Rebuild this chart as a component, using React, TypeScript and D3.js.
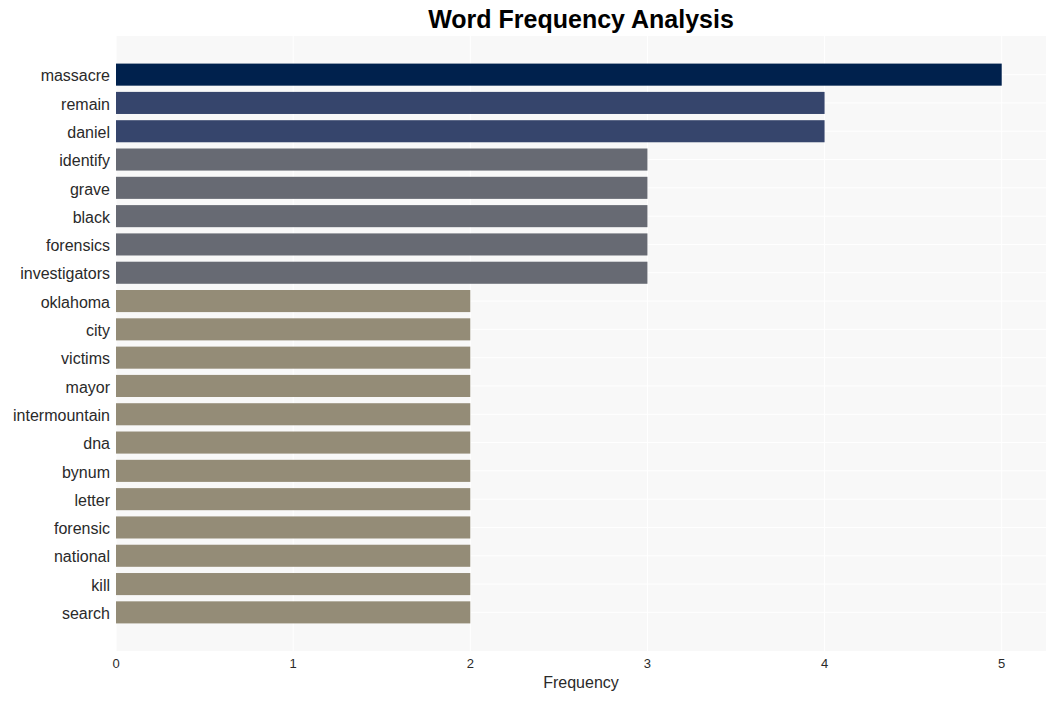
import { useEffect, useRef } from 'react';
import * as d3 from 'd3';

const WORDS = ['massacre', 'remain', 'daniel', 'identify', 'grave', 'black', 'forensics', 'investigators', 'oklahoma', 'city', 'victims', 'mayor', 'intermountain', 'dna', 'bynum', 'letter', 'forensic', 'national', 'kill', 'search'];
const COUNTS = [5, 4, 4, 3, 3, 3, 3, 3, 2, 2, 2, 2, 2, 2, 2, 2, 2, 2, 2, 2];
const X_TICKS = [0, 1, 2, 3, 4, 5];
const COLORS: Record<number, string> = { 5: '#00214d', 4: '#36456c', 3: '#676a73', 2: '#948c77' };

export default function App() {
  const svgRef = useRef<SVGSVGElement>(null);

  useEffect(() => {
    if (!svgRef.current) return;
    const W = 1055, H = 701, PAD = { t: 36, r: 9, b: 50, l: 116 };
    const svg = d3.select(svgRef.current);
    svg.selectAll('*').remove();

    const x = d3.scaleLinear().domain([0, 5.25]).range([PAD.l, W - PAD.r]);
    const y = d3.scaleBand().domain(WORDS).range([PAD.t, H - PAD.b]).paddingInner(0.22).paddingOuter(0.975);
    const font = 'Liberation Sans, Arial, sans-serif';

    // plot background
    svg.append('rect')
      .attr('x', PAD.l).attr('y', PAD.t)
      .attr('width', W - PAD.r - PAD.l).attr('height', H - PAD.b - PAD.t)
      .attr('fill', '#f8f8f8');

    // grid lines
    X_TICKS.forEach(t => {
      svg.append('line')
        .attr('x1', x(t)).attr('x2', x(t)).attr('y1', PAD.t).attr('y2', H - PAD.b)
        .attr('stroke', '#ffffff').attr('stroke-width', 1);
    });
    WORDS.forEach(w => {
      const cy = (y(w) ?? 0) + y.bandwidth() / 2;
      svg.append('line')
        .attr('x1', PAD.l).attr('x2', W - PAD.r).attr('y1', cy).attr('y2', cy)
        .attr('stroke', '#ffffff').attr('stroke-width', 1);
    });

    // bars
    svg.append('g').selectAll('rect').data(WORDS).enter()
      .append('rect')
      .attr('x', x(0)).attr('y', d => y(d) ?? 0)
      .attr('width', (_, i) => x(COUNTS[i]) - x(0)).attr('height', y.bandwidth())
      .attr('fill', (_, i) => COLORS[COUNTS[i]]);

    // y labels
    svg.append('g').selectAll('text').data(WORDS).enter()
      .append('text')
      .attr('x', PAD.l - 6).attr('y', d => (y(d) ?? 0) + y.bandwidth() / 2)
      .attr('dy', '0.42em').attr('text-anchor', 'end')
      .attr('font-family', font).attr('font-size', 16).attr('fill', '#2a2a2a')
      .text(d => d);

    // x tick labels
    X_TICKS.forEach(t => {
      svg.append('text')
        .attr('x', x(t)).attr('y', H - PAD.b + 17)
        .attr('text-anchor', 'middle').attr('font-family', font).attr('font-size', 13).attr('fill', '#2a2a2a')
        .text(t);
    });

    // axis title
    svg.append('text')
      .attr('x', (PAD.l + W - PAD.r) / 2).attr('y', H - 13)
      .attr('text-anchor', 'middle').attr('font-family', font).attr('font-size', 16).attr('fill', '#2a2a2a')
      .text('Frequency');

    // title
    svg.append('text')
      .attr('x', (PAD.l + W - PAD.r) / 2).attr('y', 28)
      .attr('text-anchor', 'middle').attr('font-family', font).attr('font-size', 25)
      .attr('font-weight', 'bold').attr('fill', '#000')
      .text('Word Frequency Analysis');
  }, []);

  return (
    <div style={{ position: 'absolute', left: 0, top: 0, background: '#fff' }}>
      <svg ref={svgRef} width={1055} height={701} style={{ display: 'block' }} />
    </div>
  );
}
